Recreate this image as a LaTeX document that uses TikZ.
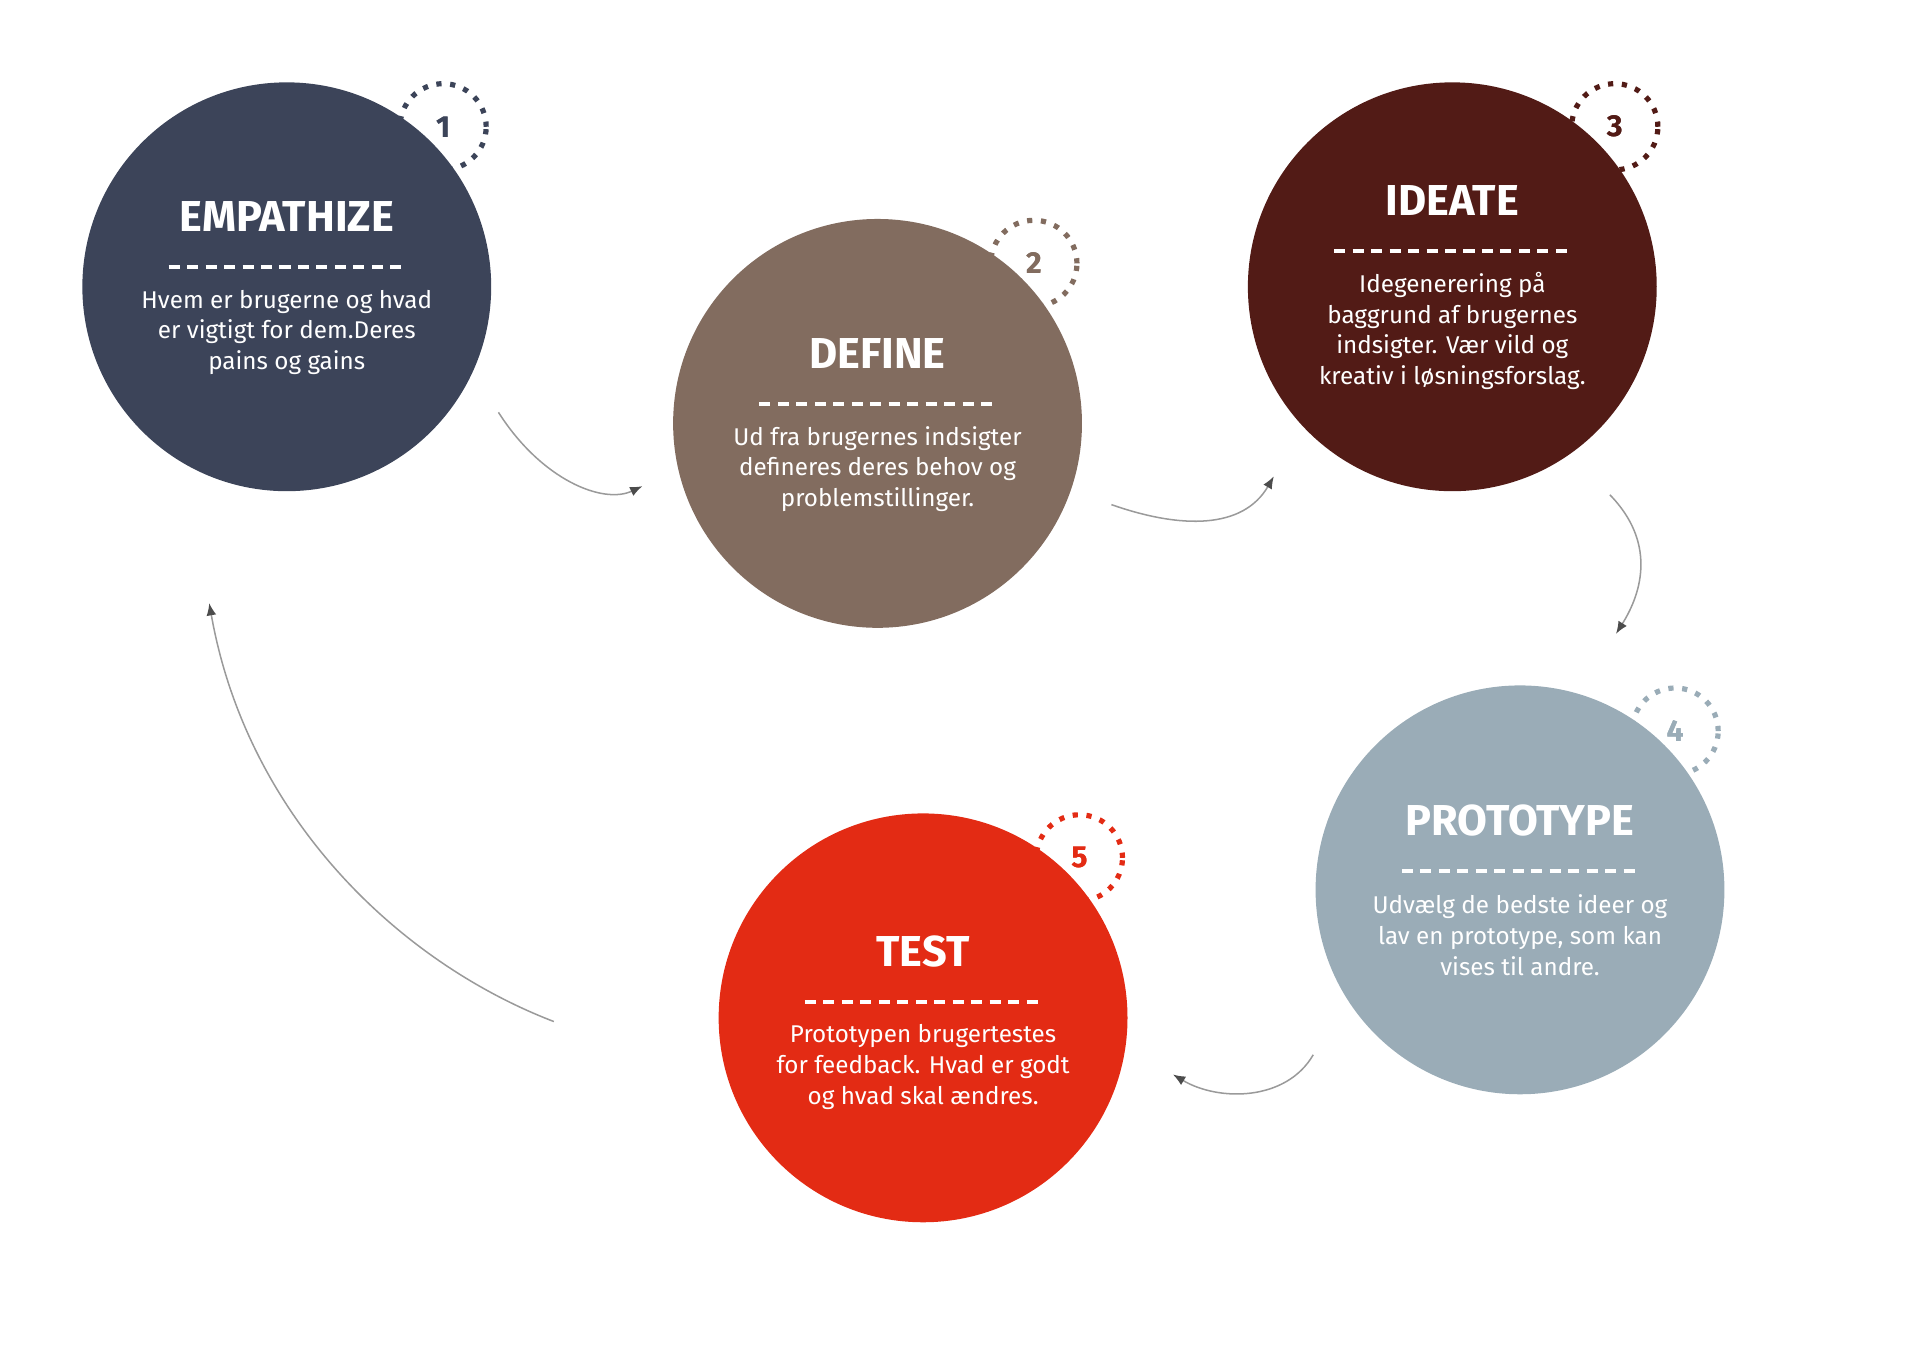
\documentclass[tikz,border=0pt]{standalone}
\usepackage{fontspec}
\setmainfont{Fira Sans}
\usetikzlibrary{arrows.meta, calc}
\definecolor{empblue}{HTML}{3C4459}
\definecolor{defbrown}{HTML}{826C5F}
\definecolor{ideared}{HTML}{521B16}
\definecolor{protogrey}{HTML}{9AACB7}
\definecolor{testred}{HTML}{E32B14}
\definecolor{flowgrey}{HTML}{9A9A9A}

\begin{document}
\begin{tikzpicture}[
    x=0.01cm, y=-0.01cm,
    stage/.style={circle, fill=#1, minimum size=3.32cm, inner sep=0pt},
    badge/.style={circle, draw=#1, dotted, line width=1.2pt, minimum size=0.7cm,
                  text=#1, font=\fontsize{7}{8}\selectfont\bfseries},
    title/.style={text=white, font=\fontsize{10}{12}\selectfont\bfseries},
    body/.style={text=white, align=center, font=\fontsize{5.6}{7.1}\selectfont},
    rule/.style={white, line width=0.9pt, dash pattern=on 0.09cm off 0.06cm},
    flow/.style={flowgrey, line width=0.35pt, -{Latex[length=0.1cm, width=0.08cm, color=black!70]}}
]
    \useasboundingbox (0,0) rectangle (1560,1103);

    % Number badges (behind the circles)
    \node[badge=empblue] (n1) at (360,103) {1};
    \node[badge=defbrown] (n2) at (840,214) {2};
    \node[badge=ideared] (n3) at (1312,103) {3};
    \node[badge=protogrey] (n4) at (1361,594) {4};
    \node[badge=testred] (n5) at (877,697) {5};

    % Stages
    \node[stage=empblue] (s1) at (233,233) {};
    \node[stage=defbrown] (s2) at (713,344) {};
    \node[stage=ideared] (s3) at (1180,233) {};
    \node[stage=protogrey] (s4) at (1235,723) {};
    \node[stage=testred] (s5) at (750,827) {};

    % Badge numbers on top
    \foreach \n/\c in {1/empblue, 2/defbrown, 3/ideared, 4/protogrey, 5/testred}
        \node[text=\c, font=\fontsize{7}{8}\selectfont\bfseries] at (n\n) {\n};

    % Texts
    \node[title] (t1) at ($(s1)+(0,-57)$) {EMPATHIZE};
    \draw[rule] ($(s1)+(-96,-16)$) -- ($(s1)+(96,-16)$);
    \node[body] (b1) at ($(s1)+(0,37)$) {Hvem er brugerne og hvad\\er vigtigt for dem.Deres\\pains og gains};

    \node[title] (t2) at ($(s2)+(0,-57)$) {DEFINE};
    \draw[rule] ($(s2)+(-96,-16)$) -- ($(s2)+(96,-16)$);
    \node[body] (b2) at ($(s2)+(0,37)$) {Ud fra brugernes indsigter\\defineres deres behov og\\problemstillinger.};

    \node[title] (t3) at ($(s3)+(0,-70)$) {IDEATE};
    \draw[rule] ($(s3)+(-96,-29)$) -- ($(s3)+(96,-29)$);
    \node[body] (b3) at ($(s3)+(0,36)$) {Idegenerering på\\baggrund af brugernes\\indsigter. Vær vild og\\kreativ i løsningsforslag.};

    \node[title] (t4) at ($(s4)+(0,-56)$) {PROTOTYPE};
    \draw[rule] ($(s4)+(-96,-15)$) -- ($(s4)+(96,-15)$);
    \node[body] (b4) at ($(s4)+(0,37)$) {Udvælg de bedste ideer og\\lav en prototype, som kan\\vises til andre.};

    \node[title] (t5) at ($(s5)+(0,-54)$) {TEST};
    \draw[rule] ($(s5)+(-96,-13)$) -- ($(s5)+(96,-13)$);
    \node[body] (b5) at ($(s5)+(0,40)$) {Prototypen brugertestes\\for feedback. Hvad er godt\\og hvad skal ændres.};

    % Flow arrows
    \coordinate (a1) at (405,335); \coordinate (a2) at (522,395);
    \coordinate (b1) at (903,410); \coordinate (b2) at (1035,387);
    \coordinate (c1) at (1308,402); \coordinate (c2) at (1313,515);
    \coordinate (d1) at (1067,857); \coordinate (d2) at (953,873);
    \coordinate (e1) at (450,830); \coordinate (e2) at (170,490);
    \draw[flow] (a1) .. controls (440,390) and (490,410) .. (a2);
    \draw[flow] (b1) .. controls (960,430) and (1010,430) .. (b2);
    \draw[flow] (c1) .. controls (1345,440) and (1335,480) .. (c2);
    \draw[flow] (d1) .. controls (1045,895) and (990,895) .. (d2);
    \draw[flow] (e1) .. controls (320,780) and (200,660) .. (e2);
\end{tikzpicture}
\end{document}
